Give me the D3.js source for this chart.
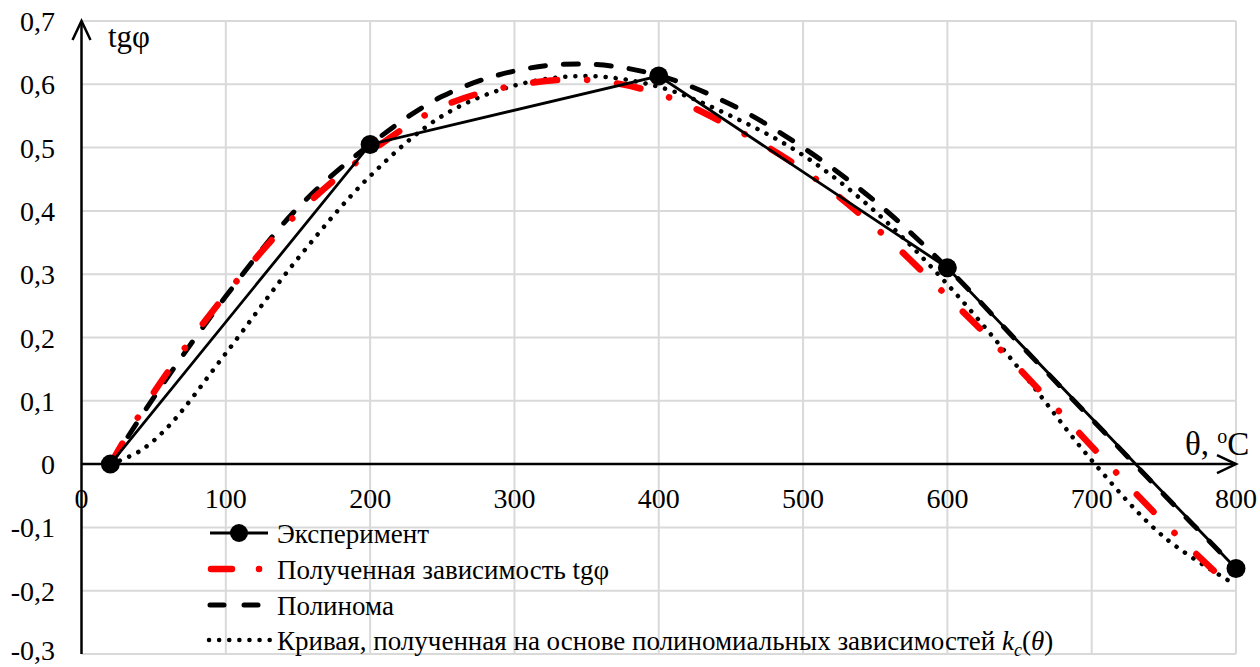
<!DOCTYPE html>
<html>
<head>
<meta charset="utf-8">
<script src="https://cdn.jsdelivr.net/npm/d3@7"></script>
<style>
  body { margin: 0; background: #fff; }
  svg { display: block; font-family: "Liberation Serif", "Times New Roman", serif; }
</style>
</head>
<body>
<svg></svg>
<script>
// Данные
var expT = [20, 200, 400, 600, 800];
var expV = [0, 0.505, 0.613, 0.31, -0.165];

var calcT = [20, 50, 100, 150, 200, 250, 300, 350, 400, 450, 500, 550, 600, 650, 700, 750, 790];
var calcV = [0, 0.113, 0.268, 0.397, 0.493, 0.565, 0.598, 0.607, 0.585, 0.533, 0.465, 0.374, 0.265, 0.15, 0.028, -0.092, -0.18];

var polyT = [20, 50, 100, 150, 200, 250, 300, 350, 400, 450, 500, 550, 600, 650, 700, 750, 800];
var polyV = [0, 0.105, 0.265, 0.405, 0.505, 0.581, 0.621, 0.632, 0.614, 0.568, 0.5, 0.415, 0.31, 0.19, 0.071, -0.048, -0.165];

var kcT = [20, 40, 60, 100, 150, 200, 250, 300, 350, 400, 450, 500, 550, 600, 650, 700, 750, 800];
var kcV = [0, 0.02, 0.059, 0.175, 0.325, 0.455, 0.55, 0.598, 0.613, 0.596, 0.55, 0.488, 0.399, 0.284, 0.15, 0.006, -0.115, -0.191];

var xTicks = [0, 100, 200, 300, 400, 500, 600, 700, 800];
var yTicks = [-0.3, -0.2, -0.1, 0, 0.1, 0.2, 0.3, 0.4, 0.5, 0.6, 0.7];

var legendNames = ['Эксперимент', 'Полученная зависимость tgφ', 'Полинома',
    'Кривая, полученная на основе полиномиальных зависимостей '];

// Канва
var w = 1260,
    h = 667;

var svg = d3.select('svg')
    .attr('width', w)
    .attr('height', h);

var x = d3.scaleLinear().domain([0, 800]).range([81.5, 1236]);
var y = d3.scaleLinear().domain([-0.3, 0.7]).range([654, 21]);

function fmt(v) {
    if (Math.abs(v) < 1e-9) return '0';
    return v.toFixed(1).replace('.', ',');
}

function pts(ts, vs) {
    return ts.map(function(t, i) { return [t, vs[i]]; });
}

// Сетка
svg.append('g').selectAll('line')
    .data(xTicks.filter(function(d) { return d > 0; }))
    .enter().append('line')
    .attr('x1', function(d) { return x(d); })
    .attr('x2', function(d) { return x(d); })
    .attr('y1', y(0.7))
    .attr('y2', y(-0.3))
    .attr('stroke', '#d9d9d9')
    .attr('stroke-width', 2);

svg.append('g').selectAll('line')
    .data(yTicks.filter(function(d) { return Math.abs(d) > 1e-9; }))
    .enter().append('line')
    .attr('x1', x(0))
    .attr('x2', x(800))
    .attr('y1', function(d) { return y(d); })
    .attr('y2', function(d) { return y(d); })
    .attr('stroke', '#d9d9d9')
    .attr('stroke-width', 2);

// Оси со стрелками
var axes = svg.append('g')
    .attr('stroke', '#000')
    .attr('stroke-width', 2.5)
    .attr('fill', 'none');

axes.append('line')
    .attr('x1', x(0)).attr('x2', x(800))
    .attr('y1', y(0)).attr('y2', y(0));
axes.append('path')
    .attr('d', 'M' + (x(800) - 19) + ',' + (y(0) - 9) + 'L' + x(800) + ',' + y(0) + 'L' + (x(800) - 19) + ',' + (y(0) + 9));

axes.append('line')
    .attr('x1', x(0)).attr('x2', x(0))
    .attr('y1', y(-0.3)).attr('y2', y(0.7));
axes.append('path')
    .attr('d', 'M' + (x(0) - 9) + ',' + (y(0.7) + 19) + 'L' + x(0) + ',' + y(0.7) + 'L' + (x(0) + 9) + ',' + (y(0.7) + 19));

// Подписи делений
svg.append('g').selectAll('text')
    .data(yTicks)
    .enter().append('text')
    .attr('x', 55)
    .attr('y', function(d) { return Math.min(y(d) + 10, 660); })
    .attr('text-anchor', 'end')
    .attr('font-size', 28)
    .text(fmt);

svg.append('g').selectAll('text')
    .data(xTicks)
    .enter().append('text')
    .attr('x', function(d) { return x(d); })
    .attr('y', 508)
    .attr('text-anchor', 'middle')
    .attr('font-size', 28)
    .text(function(d) { return d; });

// Названия осей
svg.append('text')
    .attr('x', 108)
    .attr('y', 47)
    .attr('font-size', 31)
    .text('tgφ');

var xt = svg.append('text')
    .attr('x', 1185)
    .attr('y', 455)
    .attr('font-size', 33);
xt.append('tspan').text('θ, ');
xt.append('tspan').attr('font-size', 20).attr('dy', -12).text('o');
xt.append('tspan').attr('dy', 12).text('C');

// Линии
var line = d3.line()
    .x(function(d) { return x(d[0]); })
    .y(function(d) { return y(d[1]); });

var curve = d3.line()
    .curve(d3.curveCatmullRom.alpha(0.5))
    .x(function(d) { return x(d[0]); })
    .y(function(d) { return y(d[1]); });

var styles = [
    { stroke: '#000', width: 2.8, dash: null, cap: 'butt' },
    { stroke: '#ff0000', width: 6.5, dash: '24,30,0.1,30', cap: 'round' },
    { stroke: '#000', width: 5, dash: '15,18', cap: 'round' },
    { stroke: '#000', width: 4.5, dash: '0.1,10', cap: 'round' }
];

svg.append('path')
    .attr('d', curve(pts(polyT, polyV)))
    .attr('fill', 'none')
    .attr('stroke', styles[2].stroke)
    .attr('stroke-width', styles[2].width)
    .attr('stroke-dasharray', styles[2].dash)
    .attr('stroke-linecap', styles[2].cap);

svg.append('path')
    .attr('d', curve(pts(kcT, kcV)))
    .attr('fill', 'none')
    .attr('stroke', styles[3].stroke)
    .attr('stroke-width', styles[3].width)
    .attr('stroke-dasharray', styles[3].dash)
    .attr('stroke-linecap', styles[3].cap);

svg.append('path')
    .attr('d', curve(pts(calcT, calcV)))
    .attr('fill', 'none')
    .attr('stroke', styles[1].stroke)
    .attr('stroke-width', styles[1].width)
    .attr('stroke-dasharray', styles[1].dash)
    .attr('stroke-linecap', styles[1].cap);

svg.append('path')
    .attr('d', line(pts(expT, expV)))
    .attr('fill', 'none')
    .attr('stroke', '#000')
    .attr('stroke-width', styles[0].width);

svg.append('g').selectAll('circle')
    .data(pts(expT, expV))
    .enter().append('circle')
    .attr('cx', function(d) { return x(d[0]); })
    .attr('cy', function(d) { return y(d[1]); })
    .attr('r', 9.5)
    .attr('fill', '#000');

// Легенда
var lg = svg.append('g');
var rowY = [543, 579, 615, 650];

legendNames.forEach(function(name, i) {
    var sy = rowY[i] - 10;
    var s = styles[i];
    var p = lg.append('line')
        .attr('x1', 210).attr('x2', 268)
        .attr('y1', sy).attr('y2', sy)
        .attr('stroke', s.stroke)
        .attr('stroke-width', s.width)
        .attr('stroke-linecap', s.cap);
    if (i === 1) p.attr('x1', 211).attr('x2', 264).attr('stroke-dasharray', '21,27,0.1,30');
    if (i === 2) p.attr('x1', 210).attr('x2', 260).attr('stroke-dasharray', '14,20');
    if (i === 3) p.attr('x1', 209).attr('x2', 270).attr('stroke-dasharray', '0.1,10');
    if (i === 0) {
        lg.append('circle').attr('cx', 239).attr('cy', sy).attr('r', 9).attr('fill', '#000');
    }
    var t = lg.append('text')
        .attr('x', 277)
        .attr('y', rowY[i])
        .attr('font-size', 27)
        .text(name);
    if (i === 3) {
        t.append('tspan').attr('font-style', 'italic').text('k');
        t.append('tspan').attr('font-style', 'italic').attr('font-size', 18).attr('dy', 6).text('c');
        t.append('tspan').attr('dy', -6).text('(');
        t.append('tspan').attr('font-style', 'italic').text('θ');
        t.append('tspan').text(')');
    }
});
</script>
</body>
</html>
